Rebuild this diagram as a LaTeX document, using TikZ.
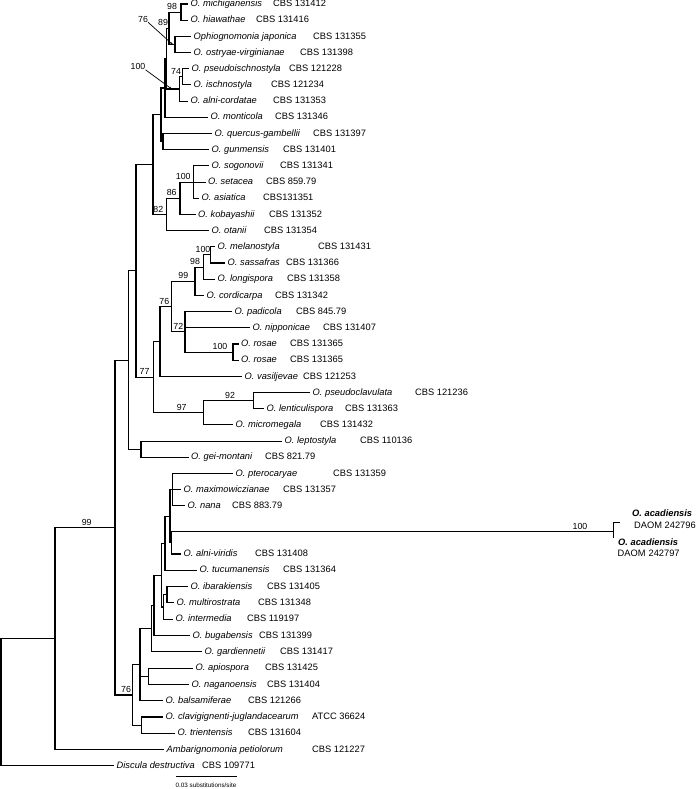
\documentclass[tikz,border=0pt]{standalone}
\usepackage{fontspec}
\setmainfont{Liberation Sans}
\newcommand\taxon[6]{%
  \coordinate (t#1) at (#2,#3);
  \node[lab] (l#1) at (#2+2.5,#3) {#4};
  \node[lab] (a#1) at (#5,#3) {#6};}
\tikzset{
  br/.style={line width=1.1pt},
  lab/.style={font=\fontsize{9.3}{11}\selectfont, inner sep=0pt, anchor=mid west},
  sup/.style={font=\fontsize{8.8}{10}\selectfont, inner sep=0pt},
  pointer/.style={line width=0.7pt, -{Stealth[length=2.5pt,width=2.5pt]}},
}
\usetikzlibrary{arrows.meta}
\begin{document}
\begin{tikzpicture}[x=1pt,y=-1pt]
\useasboundingbox (0,0) rectangle (699,789);
% ---- taxa: id, tip x, y, name, accession x, accession
\taxon{mich}{188}{4}{\textit{O. michiganensis}}{273}{CBS 131412}
\taxon{hiaw}{188}{20.19}{\textit{O. hiawathae}}{256}{CBS 131416}
\taxon{japo}{191}{36.38}{\textit{Ophiognomonia japonica}}{313}{CBS 131355}
\taxon{ostr}{191}{52.57}{\textit{O. ostryae-virginianae}}{300}{CBS 131398}
\taxon{pseu}{189}{68.76}{\textit{O. pseudoischnostyla}}{289}{CBS 121228}
\taxon{isch}{191}{84.95}{\textit{O. ischnostyla}}{271}{CBS 121234}
\taxon{alco}{188}{101.14}{\textit{O. alni-cordatae}}{273}{CBS 131353}
\taxon{mont}{208}{117.33}{\textit{O. monticola}}{275}{CBS 131346}
\taxon{quer}{212}{133.52}{\textit{O. quercus-gambellii}}{313}{CBS 131397}
\taxon{gunm}{209}{149.71}{\textit{O. gunmensis}}{283}{CBS 131401}
\taxon{sogo}{209}{165.9}{\textit{O. sogonovii}}{280}{CBS 131341}
\taxon{seta}{205.5}{182.09}{\textit{O. setacea}}{266}{CBS 859.79}
\taxon{asia}{199}{198.28}{\textit{O. asiatica}}{263}{CBS131351}
\taxon{koba}{195.5}{214.47}{\textit{O. kobayashii}}{269}{CBS 131352}
\taxon{otan}{209}{230.66}{\textit{O. otanii}}{264}{CBS 131354}
\taxon{mela}{215}{246.85}{\textit{O. melanostyla}}{318}{CBS 131431}
\taxon{sass}{225}{263.04}{\textit{O. sassafras}}{286}{CBS 131366}
\taxon{long}{215}{279.23}{\textit{O. longispora}}{287}{CBS 131358}
\taxon{cord}{204}{295.42}{\textit{O. cordicarpa}}{275}{CBS 131342}
\taxon{padi}{232}{311.61}{\textit{O. padicola}}{296}{CBS 845.79}
\taxon{nipp}{250}{327.8}{\textit{O. nipponicae}}{323}{CBS 131407}
\taxon{rosa}{238.5}{343.99}{\textit{O. rosae}}{290}{CBS 131365}
\taxon{rosb}{238.5}{360.18}{\textit{O. rosae}}{290}{CBS 131365}
\taxon{vasi}{242}{376.37}{\textit{O. vasiljevae}}{303}{CBS 121253}
\taxon{pscl}{310}{392.56}{\textit{O. pseudoclavulata}}{415}{CBS 121236}
\taxon{lent}{264}{408.75}{\textit{O. lenticulispora}}{345}{CBS 131363}
\taxon{micr}{233}{424.94}{\textit{O. micromegala}}{320}{CBS 131432}
\taxon{lept}{282}{441.13}{\textit{O. leptostyla}}{360}{CBS 110136}
\taxon{geim}{188.5}{457.32}{\textit{O. gei-montani}}{265}{CBS 821.79}
\taxon{pter}{233}{473.51}{\textit{O. pterocaryae}}{333}{CBS 131359}
\taxon{maxi}{181}{489.7}{\textit{O. maximowiczianae}}{283}{CBS 131357}
\taxon{nana}{185}{505.89}{\textit{O. nana}}{232}{CBS 883.79}
\taxon{alvi}{181}{554}{\textit{O. alni-viridis}}{255}{CBS 131408}
\taxon{tucu}{197}{570.3}{\textit{O. tucumanensis}}{283}{CBS 131364}
\taxon{ibar}{188}{586.6}{\textit{O. ibarakiensis}}{267}{CBS 131405}
\taxon{mult}{174}{602.9}{\textit{O. multirostrata}}{258}{CBS 131348}
\taxon{inte}{173}{619.2}{\textit{O. intermedia}}{247}{CBS 119197}
\taxon{buga}{190}{635.5}{\textit{O. bugabensis}}{259}{CBS 131399}
\taxon{gard}{202}{651.8}{\textit{O. gardiennetii}}{280}{CBS 131417}
\taxon{apio}{193}{668.1}{\textit{O. apiospora}}{265}{CBS 131425}
\taxon{naga}{189}{684.4}{\textit{O. naganoensis}}{267}{CBS 131404}
\taxon{bals}{163}{700.7}{\textit{O. balsamiferae}}{248}{CBS 121266}
\taxon{clav}{163}{717}{\textit{O. clavigignenti-juglandacearum}}{312}{ATCC 36624}
\taxon{trie}{175}{733.3}{\textit{O. trientensis}}{248}{CBS 131604}
\taxon{amba}{164}{749.6}{\textit{Ambarignomonia petiolorum}}{312}{CBS 121227}
\taxon{disc}{114}{765.9}{\textit{Discula destructiva}}{202}{CBS 109771}
% acadiensis
\coordinate (tac1) at (620,522.5);
\coordinate (tac2) at (613.3,538);
\node[lab] (lac1) at (632,513.5) {\textbf{\textit{O. acadiensis}}};
\node[lab] (aac1) at (634,525.5) {DAOM 242796};
\node[lab] (lac2) at (618,542.5) {\textbf{\textit{O. acadiensis}}};
\node[lab] (aac2) at (617.5,554) {DAOM\hspace{3pt}242797};
% ---- internal nodes
\coordinate (n98) at (181,12.1);
\coordinate (n76a) at (175,44.5);
\coordinate (n89) at (169,28.3);
\coordinate (n74) at (182.5,76.9);
\coordinate (n100b) at (179.5,89.0);
\coordinate (nq1) at (166.5,58.6);
\coordinate (nA) at (165,88.0);
\coordinate (nB) at (163,141.6);
\coordinate (nAB) at (161,114.8);
\coordinate (n100c) at (193.3,182.1);
\coordinate (n86) at (180,198.3);
\coordinate (n82) at (166.7,214.5);
\coordinate (nABC) at (153,164.6);
\coordinate (n100d) at (210.5,254.9);
\coordinate (n98d) at (203.3,267.1);
\coordinate (n99d) at (195,281.3);
\coordinate (n100r) at (233,352.1);
\coordinate (n72) at (185,331.9);
\coordinate (n76d) at (171.7,306.6);
\coordinate (nD1) at (160,341.5);
\coordinate (n92) at (253.3,400.7);
\coordinate (n97) at (203.3,412.8);
\coordinate (n77) at (153.3,377.2);
\coordinate (n136) at (136,270.9);
\coordinate (nE) at (141,449.2);
\coordinate (n128) at (128.3,360.1);
\coordinate (nPt) at (172.3,489.7);
\coordinate (nAc) at (171.7,542.9);
\coordinate (nAcad) at (613.3,531.7);
\coordinate (nX) at (170,516.3);
\coordinate (nY) at (165,543.3);
\coordinate (nIm) at (167,594.8);
\coordinate (nImi) at (163.5,607);
\coordinate (nZ) at (161.5,575.2);
\coordinate (nBg) at (154,605.4);
\coordinate (nH) at (151.7,628.6);
\coordinate (nAp) at (148.3,676.3);
\coordinate (nG) at (140,664.7);
\coordinate (nCT) at (141.7,725.2);
\coordinate (n76f) at (132.7,695);
\coordinate (n115) at (115,527.5);
\coordinate (n55) at (55,638.6);
\coordinate (root) at (1,702.2);
% ---- branches
\foreach \p/\c in {n98/tmich, n98/thiaw, n76a/tjapo, n76a/tostr, n89/n98, n89/n76a,
  n74/tpseu, n74/tisch, n100b/n74, n100b/talco, nq1/n89, nq1/n100b, nA/nq1, nA/tmont,
  nB/tquer, nB/tgunm, nAB/nA, nAB/nB, n100c/tsogo, n100c/tseta, n100c/tasia,
  n86/n100c, n86/tkoba, n82/n86, n82/totan, nABC/nAB, nABC/n82,
  n100d/tmela, n100d/tsass, n98d/n100d, n98d/tlong, n99d/n98d, n99d/tcord,
  n100r/trosa, n100r/trosb, n72/tpadi, n72/tnipp, n72/n100r, n76d/n99d, n76d/n72,
  nD1/n76d, nD1/tvasi, n92/tpscl, n92/tlent, n97/n92, n97/tmicr, n77/nD1, n77/n97,
  n136/nABC, n136/n77, nE/tlept, nE/tgeim, n128/n136, n128/nE,
  nPt/tpter, nPt/tmaxi, nPt/tnana, nAc/nAcad, nAc/talvi, nAcad/tac1, nAcad/tac2,
  nX/nPt, nX/nAc, nY/nX, nY/ttucu, nIm/tibar, nIm/tmult, nImi/nIm, nImi/tinte,
  nZ/nY, nZ/nImi, nBg/nZ, nBg/tbuga, nH/nBg, nH/tgard, nAp/tapio, nAp/tnaga,
  nG/nH, nG/nAp, nG/tbals, nCT/tclav, nCT/ttrie, n76f/nG, n76f/nCT,
  n115/n128, n115/n76f, n55/n115, n55/tamba, root/n55, root/tdisc}
  \draw[br] (\p) |- (\c);
% ---- support values
\node[sup] (s98a) at (172,6.6) {98};
\node[sup] (s89) at (163,22.8) {89};
\node[sup] (s76a) at (143,19) {76};
\node[sup] (s100a) at (138,66.5) {100};
\node[sup] (s74) at (176,71.4) {74};
\node[sup] (s100c) at (183.3,176.6) {100};
\node[sup] (s86) at (171.7,192.8) {86};
\node[sup] (s82) at (158.3,209) {82};
\node[sup] (s100d) at (203,249.4) {100};
\node[sup] (s98d) at (195,261.6) {98};
\node[sup] (s99d) at (183.3,275.8) {99};
\node[sup] (s76d) at (164.3,301.1) {76};
\node[sup] (s72) at (178.3,326.4) {72};
\node[sup] (s100r) at (220,346.6) {100};
\node[sup] (s77) at (144.5,371.7) {77};
\node[sup] (s92) at (230,395.2) {92};
\node[sup] (s97) at (181.7,407.3) {97};
\node[sup] (s99) at (86.7,522) {99};
\node[sup] (s100ac) at (580,526.2) {100};
\node[sup] (s76f) at (126,689.5) {76};
\coordinate (p76a) at (172.7,44.5);
\coordinate (p100a) at (171.7,89);
\draw[pointer] (s76a.south east) -- (p76a);
\draw[pointer] (s100a.south east) -- (p100a);
% ---- scale bar
\coordinate (sbL) at (176,776.7);
\coordinate (sbR) at (236.7,776.7);
\draw[br] (sbL) -- (sbR);
\node[font=\fontsize{6.3}{7}\selectfont, inner sep=0pt] (sbT) at (206,785.5) {0.03 substitutions/site};
\end{tikzpicture}
\end{document}
